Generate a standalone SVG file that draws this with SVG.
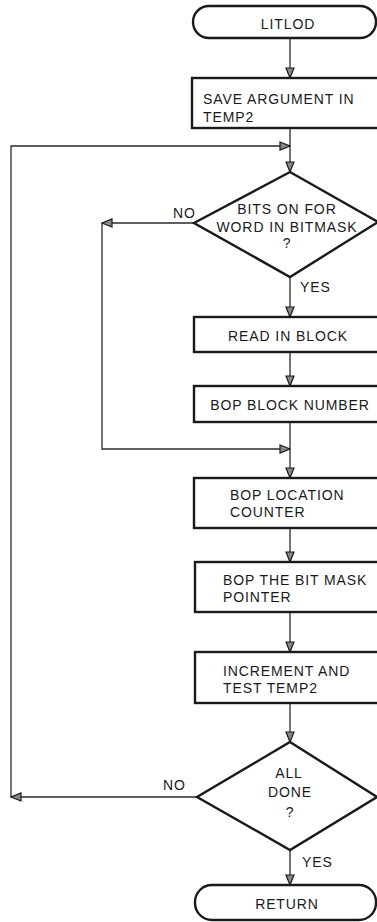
<svg xmlns="http://www.w3.org/2000/svg" width="377" height="922" viewBox="0 0 377 922">
<style>
.shape{fill:none;stroke:#1a1a1a;stroke-width:2.4}
.conn{fill:none;stroke:#2a2a2a;stroke-width:1.3}
text{font-family:"Liberation Sans",Arial,sans-serif;font-size:14px;fill:#1a1a1a;letter-spacing:0.9px}
.c{text-anchor:middle}
</style>
<defs>
<marker id="arr" markerUnits="userSpaceOnUse" markerWidth="12" markerHeight="10" viewBox="0 0 12 10" refX="11" refY="5" orient="auto">
<path d="M1,1 L11,5 L1,9 Z" fill="#888" stroke="#1a1a1a" stroke-width="1.2"/>
</marker>
</defs>
<rect width="377" height="922" fill="#fff"/>
<g id="connectors">
<path class="conn" d="M290,38 V78" marker-end="url(#arr)"/>
<path class="conn" d="M290,128 V172" marker-end="url(#arr)"/>
<path class="conn" d="M11,797 V146 H290" marker-end="url(#arr)"/>
<path class="conn" d="M197,797 H11" marker-end="url(#arr)"/>
<path class="conn" d="M194,223 H102" marker-end="url(#arr)"/>
<path class="conn" d="M102,223 V449 H290" marker-end="url(#arr)"/>
<path class="conn" d="M290,277 V317" marker-end="url(#arr)"/>
<path class="conn" d="M290,352 V386" marker-end="url(#arr)"/>
<path class="conn" d="M290,422 V478" marker-end="url(#arr)"/>
<path class="conn" d="M290,528 V562" marker-end="url(#arr)"/>
<path class="conn" d="M290,612 V652" marker-end="url(#arr)"/>
<path class="conn" d="M290,703 V742" marker-end="url(#arr)"/>
<path class="conn" d="M290,850 V885" marker-end="url(#arr)"/>
<text x="173" y="218">NO</text>
<text x="300" y="292">YES</text>
<text x="163" y="790">NO</text>
<text x="302" y="867">YES</text>
</g>
<g id="litlod">
<rect class="shape" x="193" y="6" width="183" height="32" rx="16"/>
<text class="c" x="288" y="29">LITLOD</text>
</g>
<g id="save">
<rect class="shape" x="192" y="78" width="190" height="50"/>
<text x="203" y="104">SAVE ARGUMENT IN</text>
<text x="203" y="122">TEMP2</text>
</g>
<g id="bits">
<polygon class="shape" points="290,172 378,222 290,277 194,223"/>
<text class="c" x="287" y="214">BITS ON FOR</text>
<text class="c" x="287" y="232">WORD IN BITMASK</text>
<text class="c" x="287" y="248">?</text>
</g>
<g id="read">
<rect class="shape" x="194" y="317" width="190" height="35"/>
<text class="c" x="288" y="341">READ IN BLOCK</text>
</g>
<g id="bopblock">
<rect class="shape" x="194" y="386" width="190" height="36"/>
<text class="c" x="290" y="410">BOP BLOCK NUMBER</text>
</g>
<g id="boploc">
<rect class="shape" x="194" y="478" width="190" height="50"/>
<text x="230" y="500">BOP LOCATION</text>
<text x="230" y="517">COUNTER</text>
</g>
<g id="bopmask">
<rect class="shape" x="195" y="562" width="190" height="50"/>
<text x="223" y="585">BOP THE BIT MASK</text>
<text x="223" y="602">POINTER</text>
</g>
<g id="incr">
<rect class="shape" x="195" y="652" width="190" height="51"/>
<text x="223" y="676">INCREMENT AND</text>
<text x="223" y="693">TEST TEMP2</text>
</g>
<g id="alldone">
<polygon class="shape" points="290,742 377,797 290,850 197,797"/>
<text class="c" x="289" y="778">ALL</text>
<text class="c" x="290" y="797">DONE</text>
<text class="c" x="290" y="817">?</text>
</g>
<g id="return">
<rect class="shape" x="195" y="885" width="181" height="35" rx="17"/>
<text class="c" x="287" y="909">RETURN</text>
</g>
</svg>
